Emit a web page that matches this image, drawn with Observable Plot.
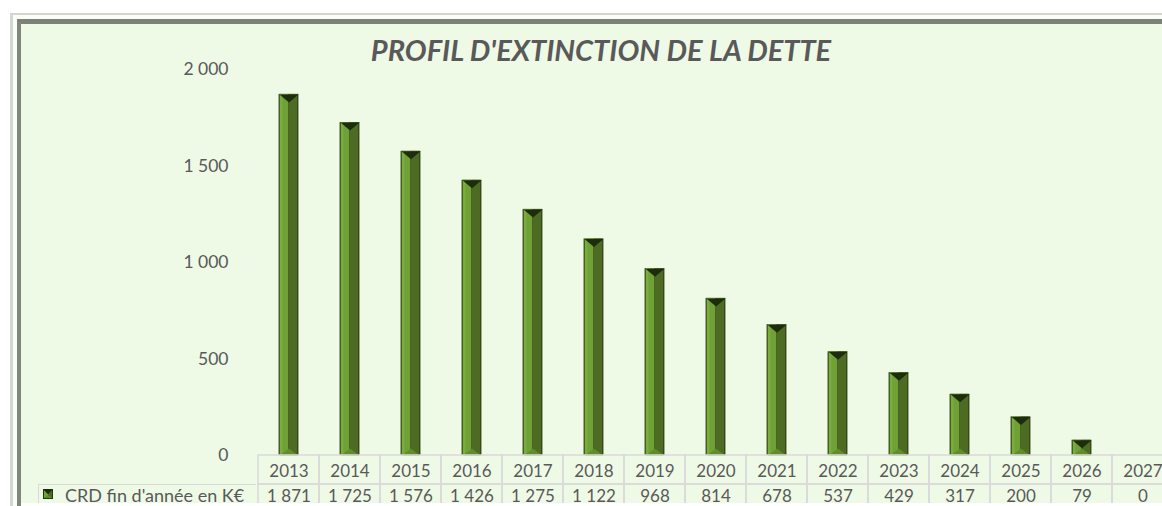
<!DOCTYPE html>
<html><head><meta charset="utf-8">
<script src="https://cdn.jsdelivr.net/npm/d3@7"></script>
<script src="https://cdn.jsdelivr.net/npm/@observablehq/plot@0.6"></script>
<style>
body{margin:0;background:#fff;}
#wrap{position:relative;width:1162px;height:506px;overflow:hidden;font-family:Lato,sans-serif;color:#595959;}
#outer{position:absolute;left:10px;top:13px;width:1200px;height:520px;border-left:3px solid #d3d7cf;border-top:2px solid #d3d7cf;background:#fbfdf8;}
#inner{position:absolute;left:17px;top:19px;width:1200px;height:500px;border-left:4px solid #80867b;border-top:5px solid #7c8277;background:#eefae6;}
#chart{position:absolute;left:0;top:0;}
#title{position:absolute;left:0;width:1202px;top:35px;text-align:center;font:italic 700 29px Lato,sans-serif;color:#595959;line-height:30px;white-space:nowrap;}
#legend{position:absolute;left:38px;top:484px;width:218px;height:22px;border-left:1.5px solid #d9d9d9;border-top:1.5px solid #d9d9d9;box-sizing:border-box;}
#key{position:absolute;left:4px;top:4px;width:10px;height:10px;}
#ltext{position:absolute;left:26px;top:-1px;font-size:18px;line-height:22px;white-space:nowrap;}
#strip{position:absolute;left:21px;top:503px;width:1200px;height:3px;background:#fff;}
</style></head>
<body><div id="wrap"><div id="outer"></div><div id="inner"></div><div id="chart"></div><div id="title"></div><div id="legend"><svg id="key" viewBox="0 0 10 10"><rect width="10" height="10" fill="#26360f"/><polygon points="1,1 5,5 5,9 1,9" fill="#73a437"/><polygon points="9,1 5,5 5,9 9,9" fill="#4e6b23"/><polygon points="1,9 5,6 9,9" fill="#5f8c2d"/><polygon points="0,0 10,0 5,5" fill="#1c2a0e"/></svg><div id="ltext"></div></div><div id="strip"></div></div>
<script>
const years = [2013,2014,2015,2016,2017,2018,2019,2020,2021,2022,2023,2024,2025,2026,2027];
const values = [1871,1725,1576,1426,1275,1122,968,814,678,537,429,317,200,79,0];
const yTicks = [0,500,1000,1500,2000];
const titleText = "PROFIL D'EXTINCTION DE LA DETTE";
const seriesName = "CRD fin d'année en K€";

document.getElementById("title").textContent = titleText;
document.getElementById("ltext").textContent = seriesName;

const data = years.map((year, i) => ({year, value: values[i]}));
const fmt = d3.formatLocale({decimal: ",", thousands: "\u00a0", grouping: [3], currency: ["", "€"]}).format(",");

const capDown = {draw(ctx) { ctx.moveTo(-9.5, 0); ctx.lineTo(9.5, 0); ctx.lineTo(0, 8); ctx.closePath(); }};
const capUp = {draw(ctx) { ctx.moveTo(-9, 0); ctx.lineTo(9, 0); ctx.lineTo(0, -7); ctx.closePath(); }};

const bw = 61.2, half = 10;
const side = bw / 2 - half;
const nonzero = data.filter(d => d.value > 0);

const chart = Plot.plot({
  width: 1162, height: 506,
  marginLeft: 256, marginRight: 0, marginTop: 0, marginBottom: 0,
  x: {type: "band", domain: years, range: [256, 256 + bw * years.length], padding: 0, axis: null},
  y: {domain: [0, 2000], range: [455, 69], axis: null},
  style: {background: "transparent", color: "#595959", fontFamily: "Lato, sans-serif", fontSize: "17px", overflow: "visible"},
  marks: [
    Plot.axisY({ticks: yTicks, tickSize: 0, tickPadding: 28, tickFormat: fmt, fontSize: 17.5, label: null}),
    // bars (bevelled look)
    Plot.barY(nonzero, {x: "year", y: "value", insetLeft: side, insetRight: side, fill: "#26360f"}),
    Plot.barY(nonzero, {x: "year", y: "value", insetLeft: side + 1, insetRight: bw / 2, fill: "#70a136"}),
    Plot.barY(nonzero, {x: "year", y: "value", insetLeft: side + 1.5, insetRight: bw / 2 + 6, fill: "#7aad3e"}),
    Plot.barY(nonzero, {x: "year", y: "value", insetLeft: bw / 2, insetRight: side + 1, fill: "#4e6b23"}),
    Plot.dot(nonzero, {x: "year", y: 0, symbol: capUp, fill: "#5f8c2d", stroke: "none"}),
    Plot.dot(nonzero, {x: "year", y: "value", symbol: capDown, fill: "#1e2c0e", stroke: "none"}),
    // data table
    Plot.barY(data, {x: "year", y1: 0, y2: 0, insetBottom: -29, fill: "none", stroke: "#d9d9d9", strokeWidth: 1.5}),
    Plot.barY(data, {x: "year", y1: 0, y2: 0, insetTop: 29, insetBottom: -60, fill: "none", stroke: "#d9d9d9", strokeWidth: 1.5}),
    Plot.text(data, {x: "year", y: 0, dy: 16, text: d => String(d.year), fontSize: 17, fill: "#595959"}),
    Plot.text(data, {x: "year", y: 0, dy: 41, text: d => fmt(d.value), fontSize: 17, fill: "#595959"})
  ]
});
document.getElementById("chart").appendChild(chart);
</script>
</body></html>
